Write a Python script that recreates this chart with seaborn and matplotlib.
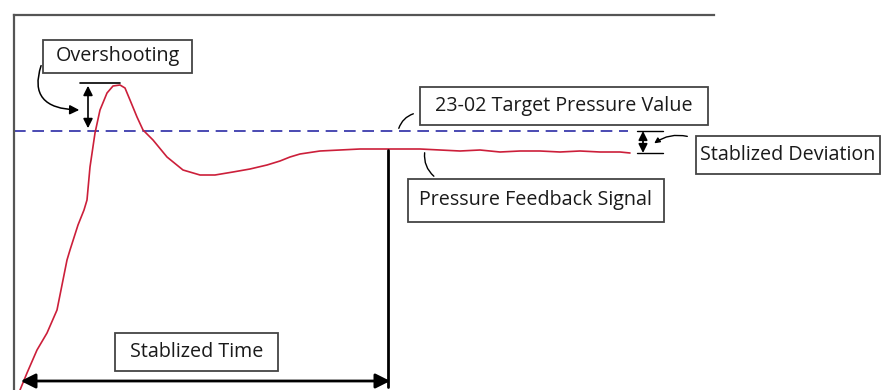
import matplotlib.pyplot as plt
from matplotlib.patches import Rectangle
import pandas as pd
import seaborn as sns

# pressure response (x = time, y = pressure level)
time = [20, 27, 37, 47, 57, 63, 67, 70, 78, 84, 87, 90, 95, 100, 107, 113, 120, 125, 130,
        137, 143, 153, 167, 183, 200, 215, 233, 250, 267, 280, 290, 300, 320, 340, 360,
        380, 400, 420, 440, 460, 480, 500, 520, 540, 560, 580, 600, 620, 630]
pressure = [0, 17, 40, 57, 80, 110, 130, 140, 165, 180, 190, 223, 257, 280, 297, 304, 305, 302, 290,
            273, 260, 250, 233, 220, 215, 215, 218, 221, 225, 229, 233, 236, 239, 240, 241,
            241, 241, 241, 240, 239, 240, 238, 239, 239, 238, 239, 238, 238, 237]
target = 259
target_end = 628
stable_time = 388

labels = ["Overshooting", "23-02 Target Pressure Value", "Stablized Deviation",
          "Pressure Feedback Signal", "Stablized Time"]

df = pd.DataFrame({"time": time, "pressure": pressure})

sns.set_style("white")
plt.rcParams['font.family'] = ['Open Sans', 'DejaVu Sans']

fig = plt.figure(figsize=(8.87, 3.90), dpi=100)
ax = fig.add_axes([0, 0, 1, 1])
ax.set_xlim(0, 887)
ax.set_ylim(0, 390)
ax.set_xticks([])
ax.set_yticks([])

# frame: only left and top pieces
for s in ['right', 'bottom']:
    ax.spines[s].set_visible(False)
ax.spines['left'].set_position(('data', 14))
ax.spines['left'].set_bounds(0, 375)
ax.spines['top'].set_position(('data', 375))
ax.spines['top'].set_bounds(14, 714)
for s in ['left', 'top']:
    ax.spines[s].set_color('#555555')
    ax.spines[s].set_linewidth(1.6)

# target line and response curve
ax.plot([14, target_end], [target, target], color='#2b2ba6', lw=1.2, dashes=(7, 4))
sns.lineplot(data=df, x='time', y='pressure', color='#cc1f3a', lw=1.2, ax=ax)
ax.set_xlabel('')
ax.set_ylabel('')

txt_color = '#1a1a1a'
box_color = '#444444'


def label_box(x0, x1, y0, y1, text):
    ax.add_patch(Rectangle((x0, y0), x1 - x0, y1 - y0, fill=False, ec=box_color, lw=1.3))
    ax.text((x0 + x1) / 2, (y0 + y1) / 2, text, ha='center', va='center',
            fontsize=14.2, color=txt_color)


# Overshooting
label_box(43, 192, 317, 350, labels[0])
peak = max(pressure)
ax.plot([80, 120], [peak + 2, peak + 2], color='black', lw=1.2)
ax.annotate('', xy=(88, peak + 2), xytext=(88, target),
            arrowprops=dict(arrowstyle='<|-|>', color='black', lw=1.2, mutation_scale=14))
ax.annotate('', xy=(82, 280), xytext=(42, 327),
            arrowprops=dict(arrowstyle='-|>', color='black', lw=1.1, mutation_scale=14,
                            connectionstyle='angle3,angleA=-110,angleB=0'))

# target value
label_box(420, 708, 265, 303, labels[1])
ax.annotate('', xy=(398, target), xytext=(416, 277),
            arrowprops=dict(arrowstyle='-', color='black', lw=1.0,
                            connectionstyle='arc3,rad=0.3'))

# stabilised deviation
label_box(696, 880, 216, 254, labels[2])
ax.plot([637, 663], [target, target], color='black', lw=1.0)
ax.plot([637, 663], [237, 237], color='black', lw=1.0)
ax.annotate('', xy=(643, target), xytext=(643, 237),
            arrowprops=dict(arrowstyle='<|-|>', color='black', lw=1.3, mutation_scale=13,
                            shrinkA=0, shrinkB=0))
ax.annotate('', xy=(652, 245), xytext=(690, 253),
            arrowprops=dict(arrowstyle='-|>', color='black', lw=1.0, mutation_scale=8,
                            connectionstyle='arc3,rad=0.25'))

# feedback signal
label_box(408, 664, 168, 211, labels[3])
ax.annotate('', xy=(436, 212), xytext=(425, 240),
            arrowprops=dict(arrowstyle='-', color='black', lw=1.0,
                            connectionstyle='arc3,rad=0.3'))

# stabilised time
label_box(115, 278, 19, 57, labels[4])
ax.plot([stable_time, stable_time], [3, 240], color='black', lw=2.0)
ax.annotate('', xy=(18, 9), xytext=(393, 9),
            arrowprops=dict(arrowstyle='<|-|>', color='black', lw=2.0, mutation_scale=22))

plt.savefig('out.png', dpi=100)
